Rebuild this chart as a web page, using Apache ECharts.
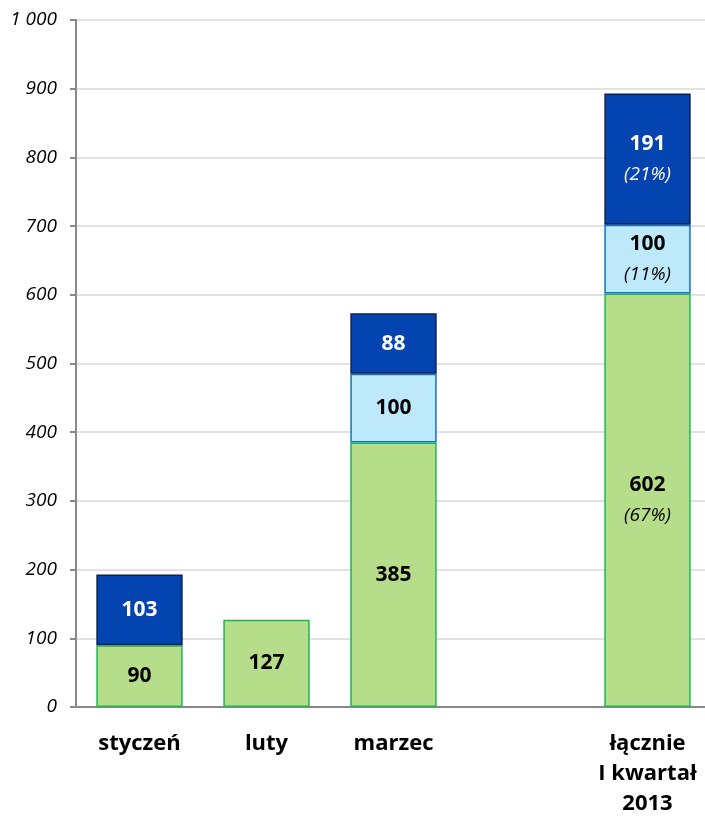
<!DOCTYPE html>
<html>
<head>
<meta charset="utf-8">
<script src="https://cdn.jsdelivr.net/npm/echarts@6/dist/echarts.min.js"></script>
<style>
  html, body { margin: 0; padding: 0; background: #fff; }
  #chart { width: 705px; height: 816px; }
</style>
</head>
<body>
<div id="chart"></div>
<script>
// dane
const categories = ['styczeń', 'luty', 'marzec', '', 'łącznie\nI kwartał\n2013'];
const greenValues = [90, 127, 385, null, 602];
const lightValues = [null, null, 100, null, 100];
const darkValues = [103, null, 88, null, 191];
const greenShare = ['', '', '', '', '67%'];
const lightShare = ['', '', '', '', '11%'];
const darkShare = ['', '', '', '', '21%'];

const FONT = '"Open Sans", sans-serif';

function makeLabel(shares, color) {
  return {
    show: true,
    position: 'inside',
    fontFamily: FONT,
    formatter: p => {
      const s = shares[p.dataIndex];
      return s ? `{v|${p.value}}\n{p|(${s})}` : `{v|${p.value}}`;
    },
    rich: {
      v: { fontSize: 21, fontWeight: 'bold', color: color, fontFamily: FONT, lineHeight: 31 },
      p: { fontSize: 19, fontStyle: 'italic', color: color, fontFamily: FONT, lineHeight: 31 }
    }
  };
}

const chart = echarts.init(document.getElementById('chart'));

chart.setOption({
  animation: false,
  grid: { left: 76, right: -6, top: 20, bottom: 109, outerBoundsMode: 'none', containLabel: false },
  xAxis: {
    type: 'category',
    data: categories,
    axisLine: { lineStyle: { color: '#898989', width: 2 } },
    axisTick: { show: false },
    axisLabel: {
      color: '#000',
      fontFamily: FONT,
      fontWeight: 'bold',
      fontSize: 22,
      lineHeight: 30,
      margin: 22,
      interval: 0
    }
  },
  yAxis: {
    type: 'value',
    min: 0,
    max: 1000,
    interval: 100,
    axisLine: { show: true, lineStyle: { color: '#898989', width: 2 } },
    axisTick: { show: true, length: 6, lineStyle: { color: '#898989', width: 2 } },
    splitLine: { lineStyle: { color: '#d9d9d9', width: 1.5 } },
    axisLabel: {
      color: '#000',
      fontFamily: FONT,
      fontStyle: 'italic',
      fontSize: 19,
      margin: 19,
      formatter: v => v === 1000 ? '1 000' : String(v)
    }
  },
  series: [
    {
      name: 'zielony',
      type: 'bar',
      stack: 'suma',
      barWidth: '68%',
      data: greenValues,
      itemStyle: { color: '#b6dd8a', borderColor: '#1fb553', borderWidth: 1.5 },
      label: makeLabel(greenShare, '#000')
    },
    {
      name: 'jasnoniebieski',
      type: 'bar',
      stack: 'suma',
      data: lightValues,
      itemStyle: { color: '#bde9fb', borderColor: '#1173c4', borderWidth: 1.5 },
      label: makeLabel(lightShare, '#000')
    },
    {
      name: 'ciemnoniebieski',
      type: 'bar',
      stack: 'suma',
      data: darkValues,
      itemStyle: { color: '#0444b0', borderColor: '#101f4c', borderWidth: 1.5 },
      label: makeLabel(darkShare, '#fff')
    }
  ]
});
</script>
</body>
</html>
